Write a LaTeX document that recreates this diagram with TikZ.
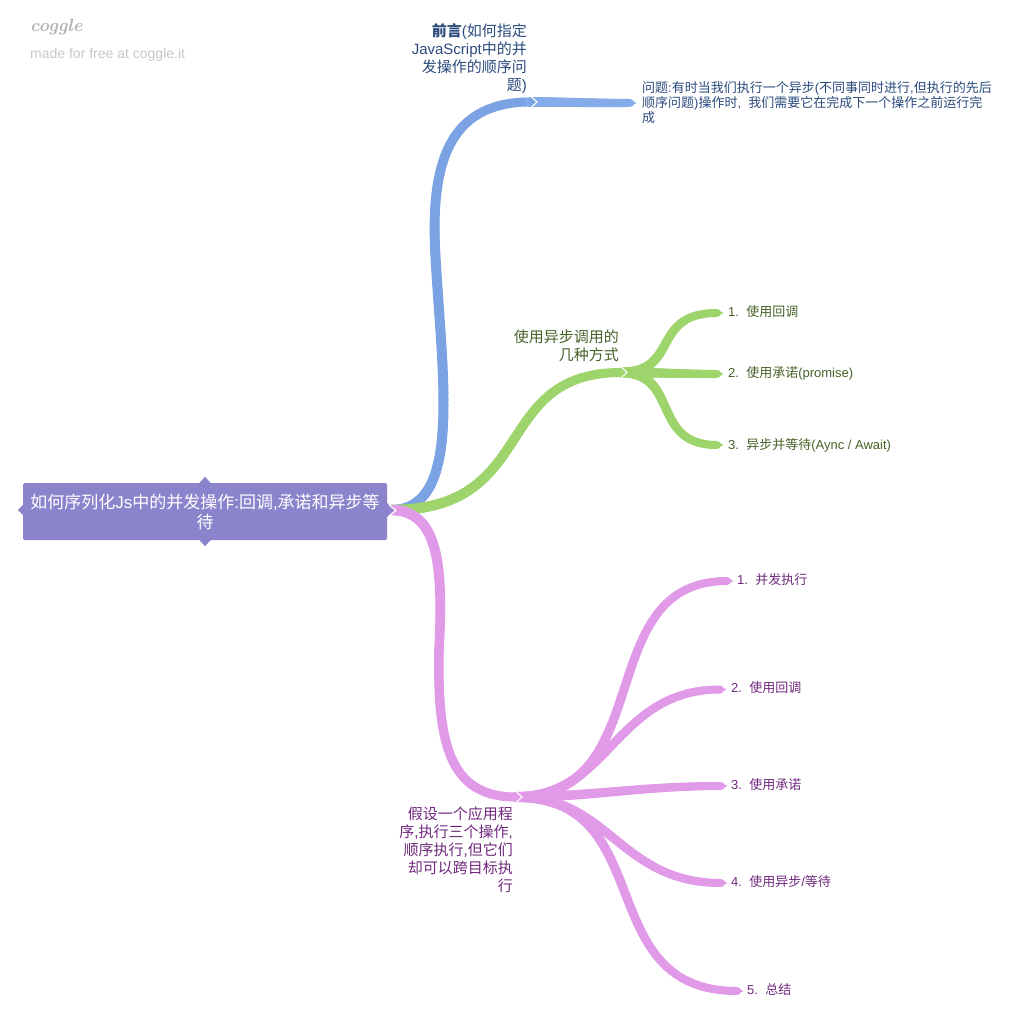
\documentclass[tikz,border=0pt]{standalone}
\usepackage{fontspec}
\setmainfont{Liberation Sans}
\newfontfamily\zhfont{Noto Sans CJK SC}
\newcommand\zh[1]{{\zhfont #1}}
\usetikzlibrary{calc}
\definecolor{rootc}{HTML}{8B83CC}
\definecolor{blueA}{HTML}{7BA3E3}
\definecolor{blueB}{HTML}{85ABE8}
\definecolor{greenA}{HTML}{9ED46C}
\definecolor{purpA}{HTML}{E09AE8}
\definecolor{blueT}{HTML}{2A4A7C}
\definecolor{greenT}{HTML}{466128}
\definecolor{purpT}{HTML}{70287E}
\tikzset{
  rootbox/.style={fill=rootc,rounded corners=1.5pt,minimum width=364pt,minimum height=57pt,inner sep=0pt,align=center,text=white,font=\fontsize{17}{20}\selectfont},
  lab/.style={inner sep=0pt,align=right,anchor=east,font=\fontsize{15}{18}\selectfont},
  leaf/.style={inner sep=0pt,align=left,anchor=west,font=\fontsize{13}{15}\selectfont},
  chev/.style={draw=white,line width=1.1pt,fill=none,line join=miter}
}
\newcommand\taper[7]{%
  \coordinate (tprev) at (#1);
  \foreach \i in {1,...,50}{%
    \pgfmathsetmacro\tpar{\i/50}%
    \pgfmathsetmacro\wcur{#5+(#6-#5)*\i/50}%
    \coordinate (tqa) at ($(#1)!\tpar!(#2)$);
    \coordinate (tqb) at ($(#2)!\tpar!(#3)$);
    \coordinate (tqc) at ($(#3)!\tpar!(#4)$);
    \coordinate (tra) at ($(tqa)!\tpar!(tqb)$);
    \coordinate (trb) at ($(tqb)!\tpar!(tqc)$);
    \coordinate (tcur) at ($(tra)!\tpar!(trb)$);
    \draw[#7,line width=\wcur pt,line cap=round] (tprev) -- (tcur);
    \coordinate (tprev) at (tcur);
  }%
}
\newcommand\tip[3]{\fill[#3] ($(#1)+(-1,-#2)$) -- ($(#1)+(6.5,0)$) -- ($(#1)+(-1,#2)$) -- cycle;}
\newcommand\chevron[1]{\draw[chev] ($(#1)+(-4,-5.5)$) -- ($(#1)+(2,0)$) -- ($(#1)+(-4,5.5)$);}
\begin{document}
\begin{tikzpicture}[x=1pt,y=-1pt]
\useasboundingbox (0,0) rectangle (1020,1035);
% junctions and ends
\coordinate (rootout) at (391,510);
\coordinate (bj) at (530,102);
\coordinate (gj) at (621,372.5);
\coordinate (pj) at (516,797);
\coordinate (bjoin) at (435,247);
\coordinate (pjoin) at (439,650);
\coordinate (b1) at (630,103);
\coordinate (g1) at (717,313);
\coordinate (g2) at (717,374);
\coordinate (g3) at (717,445);
\coordinate (p1) at (727,581);
\coordinate (p2) at (720,689.5);
\coordinate (p3) at (721,786);
\coordinate (p4) at (721,883);
\coordinate (p5) at (737,991);
% first-level branches
\taper{rootout}{465,510}{441,370}{bjoin}{10}{10}{blueA}
\taper{bjoin}{432,170}{445,102}{bj}{10}{9}{blueA}
\taper{rootout}{540,510}{490,372.5}{gj}{10.5}{9}{greenA}
\taper{rootout}{440,510}{443,570}{pjoin}{10.5}{9.5}{purpA}
\taper{pjoin}{437,745}{450,797}{pj}{9.5}{9}{purpA}
% second-level branches
\taper{bj}{560,102}{590,103}{b1}{10}{8}{blueB}
\taper{gj}{680,372.5}{650,313}{g1}{10}{8}{greenA}
\taper{gj}{660,372.5}{680,374}{g2}{10}{8}{greenA}
\taper{gj}{680,372.5}{650,445}{g3}{10}{8}{greenA}
\taper{pj}{660,797}{590,581}{p1}{10}{8}{purpA}
\taper{pj}{610,797}{615,689.5}{p2}{10}{8}{purpA}
\taper{pj}{590,797}{640,786}{p3}{10}{8}{purpA}
\taper{pj}{610,797}{620,883}{p4}{10}{8}{purpA}
\taper{pj}{660,797}{590,991}{p5}{10}{8}{purpA}
% tips
\tip{b1}{4}{blueB}
\tip{g1}{4}{greenA}\tip{g2}{4}{greenA}\tip{g3}{4}{greenA}
\tip{p1}{4}{purpA}\tip{p2}{4}{purpA}\tip{p3}{4}{purpA}\tip{p4}{4}{purpA}\tip{p5}{4}{purpA}
\tip{bj}{4.5}{blueA}\tip{gj}{4.5}{greenA}\tip{pj}{4.5}{purpA}
\chevron{$(bj)+(5,0)$}
\chevron{$(gj)+(4,0)$}
\chevron{$(pj)+(4,0)$}
% root
\node[rootbox] (root) at (205,511.5) {\zh{如何序列化}Js\zh{中的并发操作}:\zh{回调},\zh{承诺和异步等}\\\zh{待}};
\fill[rootc] (root.north) ++(-6,0.5) -- ++(6,-6.5) -- ++(6,6.5) -- cycle;
\fill[rootc] (root.south) ++(-6,-0.5) -- ++(6,6.5) -- ++(6,-6.5) -- cycle;
\fill[rootc] (root.west) ++(0.5,-7) -- ++(-5.5,5.5) -- ++(5.5,5.5) -- cycle;
\fill[rootc] (387,503) -- (394,510) -- (387,517) -- cycle;
\draw[chev] (389,505) -- (396,510.5) -- (389,516);
% labels
\node[lab,text=blueT] (lb) at (527,58.5) {{\zhfont\bfseries 前言}(\zh{如何指定}\\JavaScript\zh{中的并}\\\zh{发操作的顺序问}\\\zh{题})};
\node[inner sep=0pt,align=left,anchor=west,text=blueT,font=\fontsize{13}{15}\selectfont] (nb) at (642,102.5) {\zh{问题}:\zh{有时当我们执行一个异步}(\zh{不同事同时进行},\zh{但执行的先后}\\\zh{顺序问题})\zh{操作时},\ \ \zh{我们需要它在完成下一个操作之前运行完}\\\zh{成}};
\node[lab,text=greenT] (lg) at (619,346) {\zh{使用异步调用的}\\\zh{几种方式}};
\node[leaf,text=greenT] (ng1) at (728,312) {1.\ \ \zh{使用回调}};
\node[leaf,text=greenT] (ng2) at (728,373) {2.\ \ \zh{使用承诺}(promise)};
\node[leaf,text=greenT] (ng3) at (728,445) {3.\ \ \zh{异步并等待}(Aync / Await)};
\node[lab,text=purpT] (lp) at (513,850) {\zh{假设一个应用程}\\\zh{序},\zh{执行三个操作},\\\zh{顺序执行},\zh{但它们}\\\zh{却可以跨目标执}\\\zh{行}};
\node[leaf,text=purpT] (np1) at (737,579.5) {1.\ \ \zh{并发执行}};
\node[leaf,text=purpT] (np2) at (731,687.5) {2.\ \ \zh{使用回调}};
\node[leaf,text=purpT] (np3) at (731,784.5) {3.\ \ \zh{使用承诺}};
\node[leaf,text=purpT] (np4) at (731,881.5) {4.\ \ \zh{使用异步}/\zh{等待}};
\node[leaf,text=purpT] (np5) at (747,989.5) {5.\ \ \zh{总结}};
% watermark
\node[inner sep=0pt,anchor=west,text=black!30,font=\fontsize{18}{24}\selectfont] (wm) at (30,27) {\fontspec{Latin Modern Roman}\itshape\bfseries coggle};
\node[inner sep=0pt,anchor=west,text=black!22,font=\fontsize{14}{16}\selectfont] (wt) at (30,55) {made for free at coggle.it};
\end{tikzpicture}
\end{document}
